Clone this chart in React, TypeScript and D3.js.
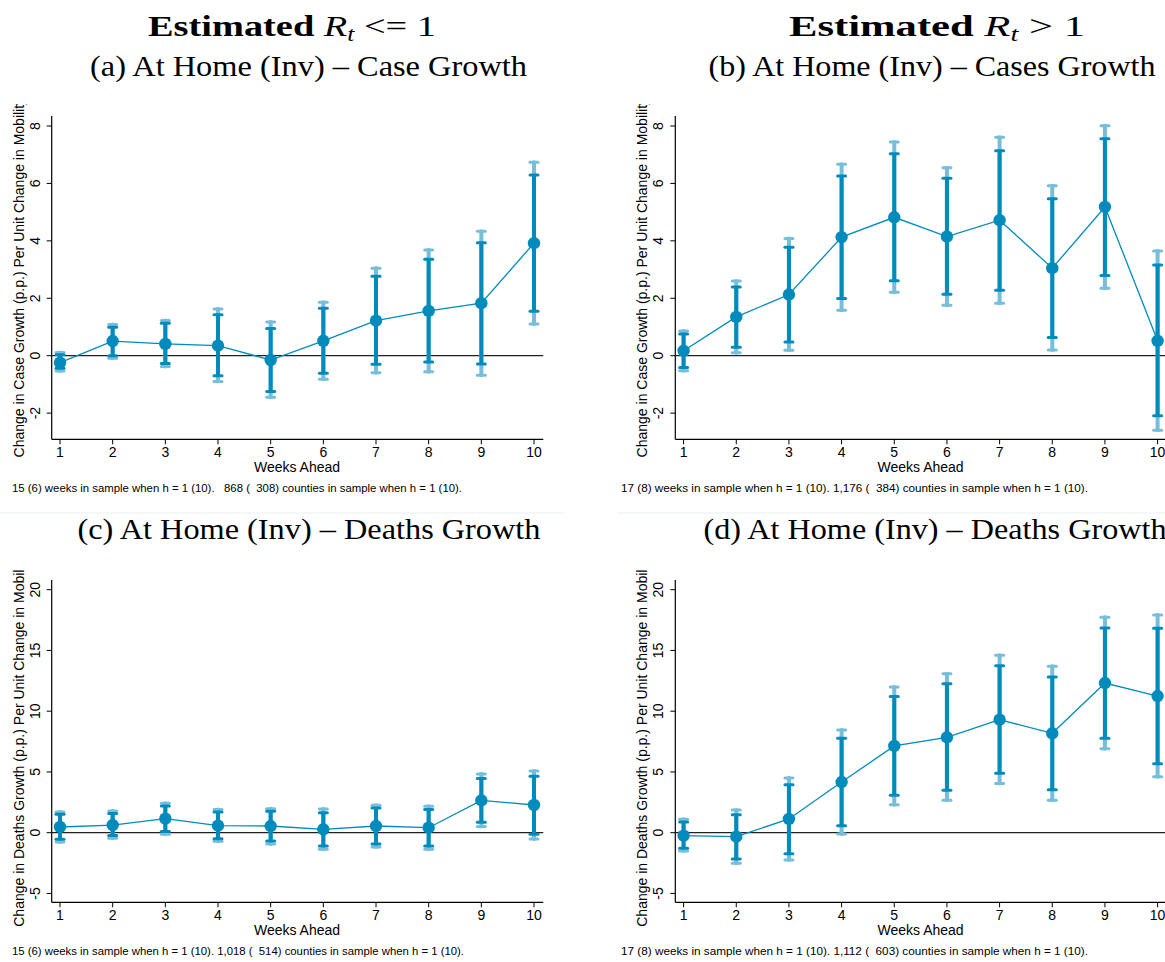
import React from "react";
import * as d3 from "d3";

const weeks = [1, 2, 3, 4, 5, 6, 7, 8, 9, 10];

// (a) Rt <= 1, case growth
const aEst = [-0.24, 0.51, 0.41, 0.35, -0.15, 0.52, 1.22, 1.56, 1.83, 3.92];
const aInLo = [-0.44, 0.0, -0.27, -0.7, -1.25, -0.61, -0.3, -0.22, -0.29, 1.55];
const aInHi = [0.03, 0.99, 1.13, 1.43, 0.95, 1.65, 2.77, 3.36, 3.93, 6.29];
const aOutLo = [-0.53, -0.09, -0.38, -0.9, -1.45, -0.82, -0.59, -0.56, -0.68, 1.1];
const aOutHi = [0.11, 1.09, 1.23, 1.63, 1.17, 1.86, 3.05, 3.68, 4.33, 6.74];

// (b) Rt > 1, case growth
const bEst = [0.17, 1.35, 2.13, 4.13, 4.82, 4.15, 4.72, 3.05, 5.18, 0.52];
const bInLo = [-0.41, 0.29, 0.48, 1.99, 2.61, 2.14, 2.28, 0.63, 2.79, -2.09];
const bInHi = [0.76, 2.39, 3.78, 6.26, 7.03, 6.18, 7.14, 5.47, 7.56, 3.16];
const bOutLo = [-0.52, 0.1, 0.19, 1.58, 2.21, 1.76, 1.83, 0.2, 2.35, -2.6];
const bOutHi = [0.86, 2.6, 4.08, 6.67, 7.44, 6.55, 7.61, 5.92, 8.01, 3.65];

// (c) Rt <= 1, deaths growth
const cEst = [0.47, 0.63, 1.15, 0.58, 0.55, 0.28, 0.55, 0.41, 2.66, 2.28];
const cInLo = [-0.54, -0.24, 0.09, -0.49, -0.68, -1.1, -0.93, -1.1, 0.85, -0.13];
const cInHi = [1.51, 1.59, 2.2, 1.7, 1.76, 1.65, 2.03, 1.9, 4.47, 4.64];
const cOutLo = [-0.77, -0.46, -0.13, -0.71, -0.93, -1.37, -1.18, -1.37, 0.52, -0.52];
const cOutHi = [1.7, 1.79, 2.42, 1.9, 1.98, 1.95, 2.25, 2.17, 4.83, 5.08];

// (d) Rt > 1, deaths growth
const dEst = [-0.24, -0.33, 1.13, 4.17, 7.14, 7.85, 9.3, 8.18, 12.32, 11.25];
const dInLo = [-1.29, -2.17, -1.73, 0.58, 3.08, 3.49, 4.89, 3.54, 7.77, 5.68];
const dInHi = [0.88, 1.48, 3.95, 7.77, 11.22, 12.26, 13.75, 12.81, 16.85, 16.82];
const dOutLo = [-1.5, -2.52, -2.25, -0.11, 2.3, 2.67, 4.04, 2.67, 6.91, 4.61];
const dOutHi = [1.1, 1.87, 4.5, 8.45, 11.99, 13.09, 14.6, 13.7, 17.73, 17.92];

const caseTicks = [-2, 0, 2, 4, 6, 8];
const deathTicks = [-5, 0, 5, 10, 15, 20];

const caseLabel = "Change in Case Growth (p.p.) Per Unit Change in Mobility";
const deathLabel = "Change in Deaths Growth (p.p.) Per Unit Change in Mobility";
const xLabel = "Weeks Ahead";

const noteA = "15 (6) weeks in sample when h = 1 (10).   868 (  308) counties in sample when h = 1 (10).";
const noteB = "17 (8) weeks in sample when h = 1 (10). 1,176 (  384) counties in sample when h = 1 (10).";
const noteC = "15 (6) weeks in sample when h = 1 (10). 1,018 (  514) counties in sample when h = 1 (10).";
const noteD = "17 (8) weeks in sample when h = 1 (10). 1,112 (  603) counties in sample when h = 1 (10).";

const BLUE = "rgb(0,139,188)";
const LIGHT = "rgb(118,190,218)";
const SANS = "'Liberation Sans', Arial, sans-serif";
const SERIF = "'Liberation Serif', 'Times New Roman', serif";

type PanelProps = {
  id: string;
  ox: number;
  noteX: number;
  noteW: number;
  top: number;
  bottom: number;
  clipTop: number;
  yDomain: [number, number];
  yRange: [number, number];
  ticks: number[];
  est: number[];
  inLo: number[];
  inHi: number[];
  outLo: number[];
  outHi: number[];
  yLabel: string;
  note: string;
};

function Panel(p: PanelProps) {
  const x = d3.scaleLinear().domain([1, 10]).range([p.ox + 60, p.ox + 534]);
  const y = d3.scaleLinear().domain(p.yDomain).range(p.yRange);
  const axL = p.ox + 51.7;
  const axR = p.ox + 543.3;
  const line = d3
    .line<number>()
    .x((_, i) => x(weeks[i]))
    .y((d) => y(d));
  const midY = (p.top + p.bottom) / 2;
  const capW = 4;
  return (
    <g>
      <defs>
        <clipPath id={"clip-" + p.id}>
          <rect x={p.ox} y={p.clipTop} width={600} height={500} />
        </clipPath>
      </defs>
      <line x1={axL} x2={axL} y1={p.top} y2={p.bottom} stroke="#000" strokeWidth={1.2} />
      <line x1={axL} x2={axR} y1={p.bottom} y2={p.bottom} stroke="#000" strokeWidth={1.2} />
      {p.ticks.map((t) => (
        <g key={"yt" + t}>
          <line x1={axL - 5} x2={axL} y1={y(t)} y2={y(t)} stroke="#000" strokeWidth={1} />
          <text
            transform={`translate(${axL - 12},${y(t)}) rotate(-90)`}
            textAnchor="middle"
            fontFamily={SANS}
            fontSize={14}
            fill="#000"
          >
            {t}
          </text>
        </g>
      ))}
      {weeks.map((w) => (
        <g key={"xt" + w}>
          <line x1={x(w)} x2={x(w)} y1={p.bottom} y2={p.bottom + 5} stroke="#000" strokeWidth={1} />
          <text x={x(w)} y={p.bottom + 18} textAnchor="middle" fontFamily={SANS} fontSize={14} fill="#000">
            {w}
          </text>
        </g>
      ))}
      <text x={(x(1) + x(10)) / 2} y={p.bottom + 33} textAnchor="middle" fontFamily={SANS} fontSize={14} fill="#000">
        {xLabel}
      </text>
      <g clipPath={`url(#clip-${p.id})`}>
        <text
          transform={`translate(${p.ox + 23.5},${midY}) rotate(-90)`}
          textAnchor="middle"
          fontFamily={SANS}
          fontSize={14}
          fill="#000"
        >
          {p.yLabel}
        </text>
      </g>
      <line x1={axL} x2={axR} y1={y(0)} y2={y(0)} stroke="#222" strokeWidth={1.3} />
      {weeks.map((w, i) => (
        <g key={"o" + w} stroke={LIGHT} strokeLinecap="round">
          <line x1={x(w)} x2={x(w)} y1={y(p.outLo[i])} y2={y(p.outHi[i])} strokeWidth={4} />
          <line x1={x(w) - capW} x2={x(w) + capW} y1={y(p.outLo[i])} y2={y(p.outLo[i])} strokeWidth={3} />
          <line x1={x(w) - capW} x2={x(w) + capW} y1={y(p.outHi[i])} y2={y(p.outHi[i])} strokeWidth={3} />
        </g>
      ))}
      {weeks.map((w, i) => (
        <g key={"n" + w} stroke={BLUE}>
          <line x1={x(w)} x2={x(w)} y1={y(p.inLo[i])} y2={y(p.inHi[i])} strokeWidth={4} />
          <line x1={x(w) - capW} x2={x(w) + capW} y1={y(p.inLo[i])} y2={y(p.inLo[i])} strokeWidth={3} strokeLinecap="round" />
          <line x1={x(w) - capW} x2={x(w) + capW} y1={y(p.inHi[i])} y2={y(p.inHi[i])} strokeWidth={3} strokeLinecap="round" />
        </g>
      ))}
      <path d={line(p.est) || ""} fill="none" stroke={BLUE} strokeWidth={1.3} />
      {weeks.map((w, i) => (
        <circle key={"m" + w} cx={x(w)} cy={y(p.est[i])} r={6.2} fill={BLUE} />
      ))}
      <text
        x={p.noteX}
        y={p.bottom + 53}
        fontFamily={SANS}
        fontSize={11.4}
        fill="#000"
        textLength={p.noteW}
        lengthAdjust="spacingAndGlyphs"
        style={{ whiteSpace: "pre" }}
      >
        {p.note}
      </text>
    </g>
  );
}

export default function App() {
  const R = 623.6;
  return (
    <svg width={1165} height={962} style={{ position: "absolute", left: 0, top: 0, background: "#fff" }}>
      <rect x={0} y={0} width={1165} height={962} fill="#fff" />
      <text x={292} y={36} textAnchor="middle" fontFamily={SERIF} fontSize={30} fill="#000" textLength={288} lengthAdjust="spacingAndGlyphs">
        <tspan fontWeight="bold">Estimated </tspan>
        <tspan fontStyle="italic">R</tspan>
        <tspan fontSize={20} dy={5} fontStyle="italic">t</tspan>
        <tspan dy={-5}> {"<= 1"}</tspan>
      </text>
      <text x={937} y={36} textAnchor="middle" fontFamily={SERIF} fontSize={30} fill="#000" textLength={296} lengthAdjust="spacingAndGlyphs">
        <tspan fontWeight="bold">Estimated </tspan>
        <tspan fontStyle="italic">R</tspan>
        <tspan fontSize={20} dy={5} fontStyle="italic">t</tspan>
        <tspan dy={-5}> {"> 1"}</tspan>
      </text>
      <text x={308.5} y={76} textAnchor="middle" fontFamily={SERIF} fontSize={29} fill="#000" textLength={437} lengthAdjust="spacingAndGlyphs">
        (a) At Home (Inv) – Case Growth
      </text>
      <text x={932} y={76} textAnchor="middle" fontFamily={SERIF} fontSize={29} fill="#000" textLength={447} lengthAdjust="spacingAndGlyphs">
        (b) At Home (Inv) – Cases Growth
      </text>
      <text x={309} y={539} textAnchor="middle" fontFamily={SERIF} fontSize={29} fill="#000" textLength={463} lengthAdjust="spacingAndGlyphs">
        (c) At Home (Inv) – Deaths Growth
      </text>
      <text x={935} y={539} textAnchor="middle" fontFamily={SERIF} fontSize={29} fill="#000" textLength={463} lengthAdjust="spacingAndGlyphs">
        (d) At Home (Inv) – Deaths Growth
      </text>
      <line x1={0} x2={565} y1={513} y2={513} stroke="#e8f0f3" strokeWidth={1} />
      <line x1={618} x2={1165} y1={513} y2={513} stroke="#e8f0f3" strokeWidth={1} />

      <Panel id="a" ox={0} noteX={12} noteW={450} top={116} bottom={439.3} clipTop={104} yDomain={[0, 8]} yRange={[355.7, 126]} ticks={caseTicks}
        est={aEst} inLo={aInLo} inHi={aInHi} outLo={aOutLo} outHi={aOutHi} yLabel={caseLabel} note={noteA} />
      <Panel id="b" ox={R} noteX={621} noteW={467} top={116} bottom={439.3} clipTop={104} yDomain={[0, 8]} yRange={[355.7, 126]} ticks={caseTicks}
        est={bEst} inLo={bInLo} inHi={bInHi} outLo={bOutLo} outHi={bOutHi} yLabel={caseLabel} note={noteB} />
      <Panel id="c" ox={0} noteX={12} noteW={452} top={580} bottom={902.3} clipTop={570} yDomain={[0, 20]} yRange={[832.7, 589.7]} ticks={deathTicks}
        est={cEst} inLo={cInLo} inHi={cInHi} outLo={cOutLo} outHi={cOutHi} yLabel={deathLabel} note={noteC} />
      <Panel id="d" ox={R} noteX={621} noteW={467} top={580} bottom={902.3} clipTop={570} yDomain={[0, 20]} yRange={[832.7, 589.7]} ticks={deathTicks}
        est={dEst} inLo={dInLo} inHi={dInHi} outLo={dOutLo} outHi={dOutHi} yLabel={deathLabel} note={noteD} />
    </svg>
  );
}
